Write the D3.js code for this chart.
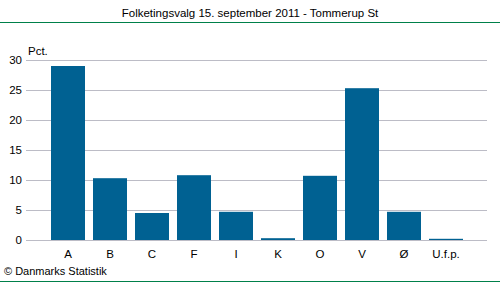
<!DOCTYPE html>
<html>
<head>
  <meta charset="utf-8">
  <title>Folketingsvalg 15. september 2011 - Tommerup St</title>
  <script src="https://d3js.org/d3.v7.min.js"></script>
  <style>
    body { margin: 0; background: #fff; }
    svg { display: block; font-family: "Liberation Sans", Arial, sans-serif; }
  </style>
</head>
<body>
<svg id="chart" width="500" height="282"></svg>
<script>
  // Partier og stemmeandele (pct.)
  const parties = ["A", "B", "C", "F", "I", "K", "O", "V", "Ø", "U.f.p."];
  const shares  = [29.0, 10.3, 4.5, 10.8, 4.7, 0.3, 10.7, 25.3, 4.7, 0.2];
  const yTicks  = [0, 5, 10, 15, 20, 25, 30];

  const svg = d3.select("#chart");
  const W = 500, H = 282;
  const fs = 11.5;

  // titel + grønne linjer
  svg.append("text")
    .attr("x", 250).attr("y", 17)
    .attr("text-anchor", "middle")
    .attr("font-size", fs)
    .attr("fill", "#000")
    .text("Folketingsvalg 15. september 2011 - Tommerup St");
  svg.append("line")
    .attr("x1", 0).attr("x2", W).attr("y1", 22.5).attr("y2", 22.5)
    .attr("stroke", "#00804a").attr("stroke-width", 1);
  svg.append("line")
    .attr("x1", 0).attr("x2", W).attr("y1", 281.5).attr("y2", 281.5)
    .attr("stroke", "#00804a").attr("stroke-width", 1);

  const x = d3.scaleBand()
    .domain(parties)
    .range([47, 467])
    .paddingInner(8 / 42)
    .paddingOuter(4 / 42);

  const y = d3.scaleLinear().domain([0, 30]).range([240, 60]);

  // gitterlinjer
  svg.append("g").selectAll("line")
    .data(yTicks)
    .join("line")
    .attr("x1", 26).attr("x2", 487)
    .attr("y1", d => Math.round(y(d)) + 0.5)
    .attr("y2", d => Math.round(y(d)) + 0.5)
    .attr("stroke", "#bcbcc6").attr("stroke-width", 1);

  // y-akse tal
  svg.append("g").selectAll("text")
    .data(yTicks)
    .join("text")
    .attr("x", 22)
    .attr("y", d => y(d) + 4)
    .attr("text-anchor", "end")
    .attr("font-size", fs)
    .text(d => d);

  svg.append("text")
    .attr("x", 28).attr("y", 55)
    .attr("font-size", fs)
    .text("Pct.");

  // søjler
  svg.append("g").selectAll("rect")
    .data(parties)
    .join("rect")
    .attr("x", d => x(d))
    .attr("width", x.bandwidth())
    .attr("y", (d, i) => y(shares[i]))
    .attr("height", (d, i) => y(0) - y(shares[i]))
    .attr("fill", "#006192");

  // x-akse labels
  svg.append("g").selectAll("text")
    .data(parties)
    .join("text")
    .attr("x", d => x(d) + x.bandwidth() / 2)
    .attr("y", 258)
    .attr("text-anchor", "middle")
    .attr("font-size", fs)
    .text(d => d);

  svg.append("text")
    .attr("x", 4).attr("y", 275)
    .attr("font-size", 11)
    .text("© Danmarks Statistik");
</script>
</body>
</html>
